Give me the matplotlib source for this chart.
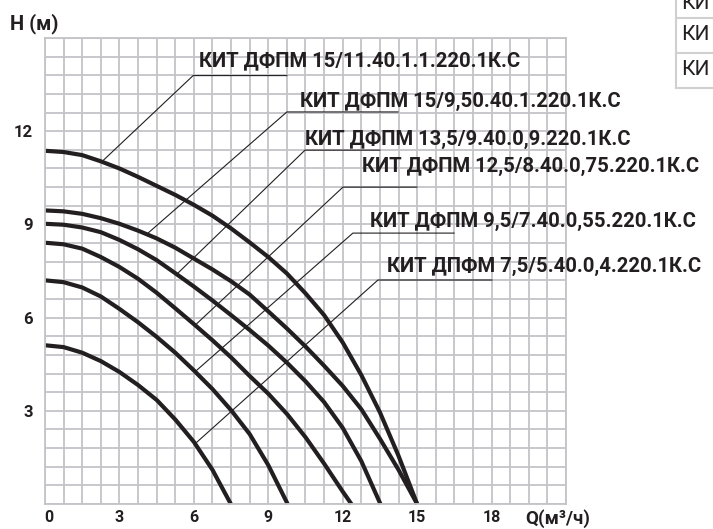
import matplotlib.pyplot as plt
import numpy as np
from matplotlib.lines import Line2D
from matplotlib.transforms import ScaledTranslation

# H-Q curves (Q in m3/h, H in m)
q_grid = [0, 0.75, 1.5, 2.25, 3, 3.75, 4.5, 5.25, 6, 6.75, 7.5, 8.25, 9,
          9.75, 10.5, 11.25, 12, 12.75, 13.5, 14.25, 15]
h1 = [11.37, 11.33, 11.23, 11.03, 10.8, 10.53, 10.24, 9.95, 9.63, 9.28, 8.87,
      8.42, 7.95, 7.42, 6.78, 6.08, 5.2, 4.15, 2.95, 1.55, 0]
h2 = [9.45, 9.42, 9.34, 9.2, 9.02, 8.8, 8.55, 8.25, 7.9, 7.55, 7.17, 6.74,
      6.2, 5.65, 5.07, 4.45, 3.8, 3.05, 2.1, 1.1, 0]
q3 = [0, 0.75, 1.5, 2.25, 3, 3.75, 4.5, 5.25, 6, 6.75, 7.5, 8.25, 9, 9.75,
      10.5, 11.25, 12, 12.75, 13.52]
h3 = [9.02, 8.99, 8.9, 8.75, 8.5, 8.2, 7.85, 7.43, 7.0, 6.55, 6.08, 5.6, 5.1,
      4.55, 3.95, 3.28, 2.45, 1.38, 0]
q4 = [0, 0.75, 1.5, 2.25, 3, 3.75, 4.5, 5.25, 6, 6.75, 7.5, 8.25, 9, 9.75,
      10.5, 11.25, 12, 12.35]
h4 = [8.41, 8.36, 8.22, 7.95, 7.63, 7.25, 6.8, 6.3, 5.79, 5.27, 4.72, 4.12,
      3.55, 2.9, 2.15, 1.3, 0.4, 0]
q5 = [0, 0.75, 1.5, 2.25, 3, 3.75, 4.5, 5.25, 6, 6.75, 7.5, 8.25, 9, 9.78]
h5 = [7.2, 7.14, 6.97, 6.68, 6.28, 5.85, 5.38, 4.87, 4.3, 3.7, 3.02, 2.25,
      1.25, 0]
q6 = [0, 0.75, 1.5, 2.25, 3, 3.75, 4.5, 5.25, 6, 6.75, 7.49]
h6 = [5.11, 5.05, 4.87, 4.6, 4.25, 3.83, 3.35, 2.72, 2.0, 1.1, 0]

names = ["КИТ ДФПМ 15/11.40.1.1.220.1К.С",
         "КИТ ДФПМ 15/9,50.40.1.220.1К.С",
         "КИТ ДФПМ 13,5/9.40.0,9.220.1К.С",
         "КИТ ДФПМ 12,5/8.40.0,75.220.1К.С",
         "КИТ ДФПМ 9,5/7.40.0,55.220.1К.С",
         "КИТ ДПФМ 7,5/5.40.0,4.220.1К.С"]

x_ticks = [0, 3, 6, 9, 12, 15, 18]
y_ticks = [3, 6, 9, 12]
table_rows = ["КИ", "КИ", "КИ"]

curves = [(q_grid, h1), (q_grid, h2), (q3, h3), (q4, h4), (q5, h5), (q6, h6)]

# leader layout: Q on the curve, elbow (Q, H), end Q of underline, text (Q, H baseline)
leaders = [
    (2.29, (5.97, 13.79), 9.75, (6.21, 14.10)),
    (4.10, (9.75, 12.62), 14.23, (10.28, 12.79)),
    (5.31, (10.48, 11.39), 13.50, (10.48, 11.55)),
    (6.05, (12.01, 10.20), 14.99, (12.78, 10.70)),
    (6.05, (12.41, 8.72), 16.49, (13.10, 8.91)),
    (6.05, (13.42, 7.21), 18.02, (13.78, 7.48)),
]

plt.rcParams['font.family'] = ['Roboto', 'DejaVu Sans']
plt.rcParams['font.weight'] = 'bold'

ink = '#231f20'
grid_c = '#c4c4c8'

fig = plt.figure(figsize=(7.13, 5.29), dpi=100)
ax = fig.add_axes([45 / 713, 25 / 529, 521 / 713, 466 / 529])
ax.set_xlim(0, 21)
ax.set_ylim(0, 15)

ax.set_xticks(np.arange(0, 21.01, 0.75), minor=True)
ax.set_yticks(np.arange(0, 15.01, 0.6), minor=True)
ax.set_xticks(x_ticks)
ax.set_yticks(y_ticks)
ax.set_xticklabels([str(t) for t in x_ticks], fontsize=11.5, fontweight='bold', color=ink)
ax.set_yticklabels([str(t) for t in y_ticks], fontsize=12, fontweight='bold', color=ink)
ax.tick_params(which='both', length=0)
ax.tick_params(axis='x', pad=4)
ax.tick_params(axis='y', pad=9)
ax.grid(which='both', color=grid_c, linewidth=1.3)
ax.set_axisbelow(True)
for s in ax.spines.values():
    s.set_color(grid_c)
    s.set_linewidth(1.3)

# the "0" label sits a little right of the axis in the original
lab0 = ax.xaxis.get_major_ticks()[0].label1
lab0.set_transform(lab0.get_transform() + ScaledTranslation(4 / 100, 0, fig.dpi_scale_trans))

for q, h in curves:
    ax.plot(q, h, color=ink, linewidth=3.0, solid_capstyle='butt',
            solid_joinstyle='round', clip_on=False)

for (q, h), name, (lq, elbow, end_q, txt) in zip(curves, names, leaders):
    lh = np.interp(lq, q, h)
    ax.plot([lq, elbow[0], end_q], [lh, elbow[1], elbow[1]], color=ink,
            linewidth=0.8, clip_on=False)
    ax.text(txt[0], txt[1], name, fontsize=14.6, fontweight='bold', color=ink,
            va='baseline', ha='left', clip_on=False)

fig.text(10 / 713, 1 - 24 / 529, "H (м)", fontsize=14.5, fontweight='bold',
         color=ink, va='center', ha='left')
fig.text(525 / 713, 1 / 529, "Q(м³/ч)", fontsize=13.5, fontweight='bold',
         color=ink, va='bottom', ha='left')

# table fragment at top right
tc = '#d0d0d0'
fig.add_artist(Line2D([676 / 713, 676 / 713], [1, 1 - 88 / 529],
                      transform=fig.transFigure, color=tc, linewidth=1.5))
for yy in [18, 53, 88]:
    fig.add_artist(Line2D([676 / 713, 1], [1 - yy / 529, 1 - yy / 529],
                          transform=fig.transFigure, color=tc, linewidth=1.5))
for yy, t in zip([3.5, 35, 70], table_rows):
    fig.text(681 / 713, 1 - yy / 529, t, fontsize=15, fontweight='normal',
             color=ink, va='center', ha='left')

fig.savefig('out.png', dpi=100)
